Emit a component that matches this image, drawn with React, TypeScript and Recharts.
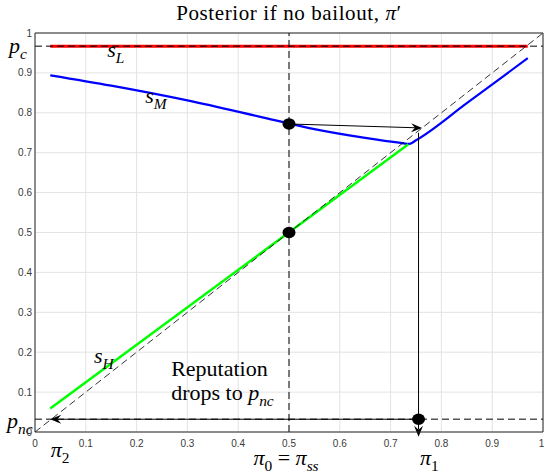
import React from "react";
import {
  ComposedChart,
  Line,
  Scatter,
  XAxis,
  YAxis,
  CartesianGrid,
  ReferenceLine,
  ReferenceDot,
} from "recharts";

// axis ticks
const xTicks = [0, 0.1, 0.2, 0.3, 0.4, 0.5, 0.6, 0.7, 0.8, 0.9, 1];
const yTicks = [0, 0.1, 0.2, 0.3, 0.4, 0.5, 0.6, 0.7, 0.8, 0.9, 1];

// reputation levels
const pc = 0.967;
const pnc = 0.032;
const pi0 = 0.5;

// posterior curves
const sL = [
  { x: 0.03, y: pc },
  { x: 0.97, y: pc },
];
const sM = [
  { x: 0.03, y: 0.894 },
  { x: 0.15, y: 0.868 },
  { x: 0.3, y: 0.831 },
  { x: 0.45, y: 0.788 },
  { x: 0.55, y: 0.759 },
  { x: 0.65, y: 0.737 },
  { x: 0.72, y: 0.7245 },
  { x: 0.737, y: 0.722 },
  { x: 0.75, y: 0.731 },
  { x: 0.85, y: 0.824 },
  { x: 0.97, y: 0.937 },
];
const sH = [
  { x: 0.03, y: 0.059 },
  { x: 0.735, y: 0.721 },
];

const dots = [
  { x: 0.5, y: 0.772 },
  { x: 0.5, y: 0.5 },
  { x: 0.755, y: pnc },
];

const arrows = [
  [{ x: 0.5, y: 0.772 }, { x: 0.762, y: 0.762 }],
  [{ x: 0.755, y: 0.75 }, { x: 0.755, y: -0.012 }],
  [{ x: 0.755, y: pnc }, { x: 0.03, y: pnc }],
];

type Part = { t: string; it?: boolean; sub?: boolean };

const notes: { x: number; y: number; parts: Part[] }[] = [
  { x: -0.051, y: 0.95, parts: [{ t: "p", it: true }, { t: "c", it: true, sub: true }] },
  { x: -0.055, y: 0.01, parts: [{ t: "p", it: true }, { t: "nc", it: true, sub: true }] },
  { x: 0.142, y: 0.94, parts: [{ t: "s", it: true }, { t: "L", it: true, sub: true }] },
  { x: 0.217, y: 0.825, parts: [{ t: "s", it: true }, { t: "M", it: true, sub: true }] },
  { x: 0.116, y: 0.173, parts: [{ t: "s", it: true }, { t: "H", it: true, sub: true }] },
  { x: 0.268, y: 0.14, parts: [{ t: "Reputation" }] },
  { x: 0.268, y: 0.08, parts: [{ t: "drops to " }, { t: "p", it: true }, { t: "nc", it: true, sub: true }] },
  { x: 0.031, y: -0.063, parts: [{ t: "π", it: true }, { t: "2", sub: true }] },
  { x: 0.43, y: -0.083, parts: [{ t: "π", it: true }, { t: "0", sub: true }, { t: " = " }, { t: "π", it: true }, { t: "ss", it: true, sub: true }] },
  { x: 0.758, y: -0.083, parts: [{ t: "π", it: true }, { t: "1", sub: true }] },
];

const SERIF = "Liberation Serif";
const SANS = "Liberation Sans";
const AXIS = "#262626";

function renderParts(parts: Part[], size: number) {
  let shift = 0;
  return parts.map((p, i) => {
    const target = p.sub ? size * 0.28 : 0;
    const dy = target - shift;
    shift = target;
    return (
      <tspan
        key={i}
        dy={dy}
        fontStyle={p.it ? "italic" : "normal"}
        fontSize={p.sub ? size * 0.7 : size}
      >
        {p.t}
      </tspan>
    );
  });
}

const noteShape = (parts: Part[]) => (props: any) => (
  <text
    x={props.cx}
    y={props.cy}
    fontFamily={SERIF}
    fontSize={22}
    fill="#000"
    style={{ whiteSpace: "pre", fontFamily: SERIF }}
  >
    {renderParts(parts, 22)}
  </text>
);

const arrowShape = (props: any) => {
  const { x1, y1, x2, y2 } = props;
  const dx = x2 - x1;
  const dy = y2 - y1;
  const len = Math.hypot(dx, dy) || 1;
  const ux = dx / len;
  const uy = dy / len;
  const L = 11;
  const W = 4.5;
  const bx = x2 - ux * L;
  const by = y2 - uy * L;
  const nx = x2 - ux * L * 0.65;
  const ny = y2 - uy * L * 0.65;
  const pts = `${x2},${y2} ${bx - uy * W},${by + ux * W} ${nx},${ny} ${bx + uy * W},${by - ux * W}`;
  return (
    <g>
      <line x1={x1} y1={y1} x2={nx} y2={ny} stroke="#000" strokeWidth={1} />
      <polygon points={pts} fill="#000" />
    </g>
  );
};

const dotShape = (props: any) => (
  <ellipse cx={props.cx} cy={props.cy} rx={6.5} ry={5.8} fill="#000" />
);

const tickStyle = { fontSize: 10, fill: "#3a3a3a", fontFamily: SANS };

export default function App() {
  return (
    <div style={{ position: "absolute", left: 0, top: 0, width: 544, height: 474, background: "#fff" }}>
      <div
        style={{
          position: "absolute",
          left: 35,
          width: 508,
          top: 3,
          textAlign: "center",
          fontFamily: SERIF,
          fontSize: 21,
          lineHeight: "20px",
          letterSpacing: 0.6,
        }}
      >
        Posterior if no bailout, <i>π</i>′
      </div>
      <ComposedChart
        width={544}
        height={474}
        margin={{ top: 33, right: 1, bottom: 22, left: 0 }}
      >
        <CartesianGrid xAxisId="x" yAxisId="y" stroke="#e3e3e3" />
        <XAxis
          xAxisId="x"
          dataKey="x"
          type="number"
          domain={[0, 1]}
          ticks={xTicks}
          allowDataOverflow
          height={20}
          tickLine={false}
          axisLine={false}
          tick={tickStyle}
        />
        <YAxis
          yAxisId="y"
          dataKey="y"
          type="number"
          domain={[0, 1]}
          ticks={yTicks}
          allowDataOverflow
          width={35}
          tickSize={1}
          tickMargin={2}
          tickLine={false}
          axisLine={false}
          tick={tickStyle}
        />
        <XAxis xAxisId="xb" type="number" domain={[0, 1]} ticks={xTicks} orientation="bottom" mirror tick={false} tickSize={5} stroke={AXIS} />
        <XAxis xAxisId="xt" type="number" domain={[0, 1]} ticks={xTicks} orientation="top" mirror tick={false} tickSize={5} stroke={AXIS} />
        <YAxis yAxisId="yl" type="number" domain={[0, 1]} ticks={yTicks} orientation="left" mirror tick={false} tickSize={5} stroke={AXIS} />
        <YAxis yAxisId="yr" type="number" domain={[0, 1]} ticks={yTicks} orientation="right" mirror tick={false} tickSize={5} stroke={AXIS} />

        <Line xAxisId="x" yAxisId="y" data={sL} dataKey="y" type="linear" stroke="#ff0000" strokeWidth={3} dot={false} isAnimationActive={false} />
        <Line xAxisId="x" yAxisId="y" data={sM} dataKey="y" type="monotone" stroke="#0000ff" strokeWidth={2.2} dot={false} isAnimationActive={false} />
        <Line xAxisId="x" yAxisId="y" data={sH} dataKey="y" type="linear" stroke="#00ff00" strokeWidth={2.5} dot={false} isAnimationActive={false} />

        <ReferenceLine xAxisId="x" yAxisId="y" y={pc} stroke="#000" strokeWidth={1} strokeDasharray="7 4" />
        <ReferenceLine xAxisId="x" yAxisId="y" y={pnc} stroke="#555" strokeWidth={1.3} strokeDasharray="7 4" />
        <ReferenceLine xAxisId="x" yAxisId="y" x={pi0} stroke="#000" strokeWidth={1} strokeDasharray="7 4" />
        <ReferenceLine xAxisId="x" yAxisId="y" segment={[{ x: 0, y: 0 }, { x: 1, y: 1 }]} stroke="#000" strokeWidth={0.8} strokeDasharray="7 4" />

        {arrows.map((seg, i) => (
          <ReferenceLine key={`a${i}`} xAxisId="x" yAxisId="y" segment={seg} ifOverflow="visible" shape={arrowShape} />
        ))}

        <Scatter xAxisId="x" yAxisId="y" data={dots} dataKey="y" shape={dotShape} isAnimationActive={false} />

        {notes.map((n, i) => (
          <ReferenceDot
            key={`n${i}`}
            xAxisId="x"
            yAxisId="y"
            x={n.x}
            y={n.y}
            r={0}
            ifOverflow="visible"
            shape={noteShape(n.parts)}
          />
        ))}
      </ComposedChart>
    </div>
  );
}
